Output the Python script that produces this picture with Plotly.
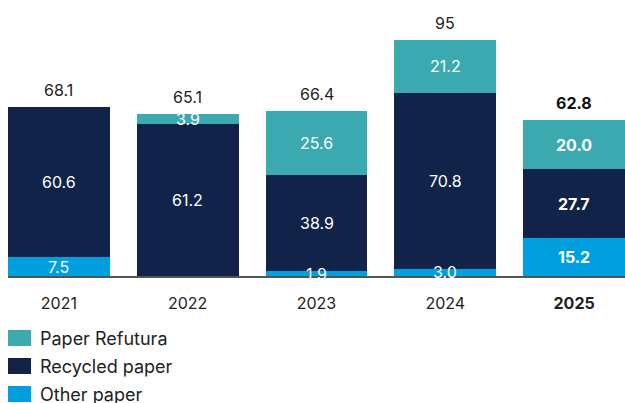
import plotly.graph_objects as go

years = ["2021", "2022", "2023", "2024", "2025"]
series_names = ["Paper Refutura", "Recycled paper", "Other paper"]
other_paper = [7.5, 0, 1.9, 3.0, 15.2]
recycled_paper = [60.6, 61.2, 38.9, 70.8, 27.7]
paper_refutura = [0, 3.9, 25.6, 21.2, 20.0]
totals = [68.1, 65.1, 66.4, 95, 62.8]
total_labels = ["68.1", "65.1", "66.4", "95", "62.8"]

colors = {"Paper Refutura": "#3AA9B0", "Recycled paper": "#12234A", "Other paper": "#009FE0"}
FONT = "Inter"

fig = go.Figure()
stack = [("Other paper", other_paper), ("Recycled paper", recycled_paper), ("Paper Refutura", paper_refutura)]
for name, vals in stack:
    fig.add_trace(go.Bar(x=years, y=vals, name=name, marker_color=colors[name],
                         marker_line_width=0, showlegend=False, hoverinfo="skip"))

annotations = []
base = [0.0] * len(years)
for name, vals in stack:
    for i, v in enumerate(vals):
        if v > 0:
            bold = years[i] == "2025"
            txt = f"<b>{v:.1f}</b>" if bold else f"{v:.1f}"
            annotations.append(dict(x=i, y=base[i] + v / 2, text=txt, showarrow=False,
                                    font=dict(family=FONT, size=16, color="white"),
                                    xref="x", yref="y", yanchor="middle"))
        base[i] += v

for i, t in enumerate(totals):
    bold = years[i] == "2025"
    txt = f"<b>{total_labels[i]}</b>" if bold else total_labels[i]
    annotations.append(dict(x=i, y=t, text=txt, showarrow=False, yshift=17,
                            font=dict(family=FONT, size=16, color="#222222" if not bold else "#111111"),
                            xref="x", yref="y", yanchor="middle"))

# legend drawn manually
shapes = []
leg_top = 330
L = 8
W = 625 - L
for k, name in enumerate(series_names):
    y0 = leg_top + 28 * k
    shapes.append(dict(type="rect", xref="paper", yref="paper",
                       x0=(8 - L) / W, x1=(31 - L) / W,
                       y0=(403 - y0 - 16 - 127) / 266, y1=(403 - y0 - 127) / 266,
                       fillcolor=colors[name], line_width=0))
    annotations.append(dict(xref="paper", yref="paper", x=(38 - L) / W, y=(403 - y0 - 8 - 127) / 266,
                            text=name, showarrow=False, xanchor="left", yanchor="middle",
                            font=dict(family=FONT, size=18, color="#222222")))

ticktext = [f"<b>{y}</b>" if y == "2025" else y for y in years]

fig.update_layout(
    width=625, height=403,
    margin=dict(l=L, r=0, t=10, b=127),
    barmode="stack", bargap=0.21,
    plot_bgcolor="white", paper_bgcolor="white",
    font=dict(family=FONT, color="#222222"),
    xaxis=dict(type="category", range=[-0.395, 4.395], tickvals=years, ticktext=ticktext, showgrid=False,
               showline=True, linecolor="#555555", linewidth=2, ticks="", ticklabelstandoff=12,
               tickfont=dict(family=FONT, size=16, color="#222222"), fixedrange=True),
    yaxis=dict(range=[0, 107.1], visible=False, showgrid=False, zeroline=False, fixedrange=True),
    annotations=annotations, shapes=shapes,
)

fig.write_html("out.html", config={"displayModeBar": False},
               post_script="document.body.style.margin='0';document.body.style.padding='0';")
